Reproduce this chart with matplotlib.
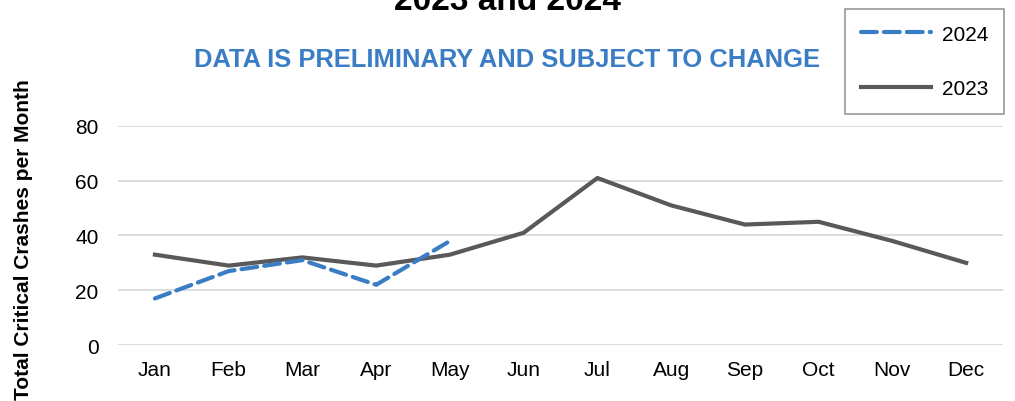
import matplotlib.pyplot as plt

plt.rcParams['font.family'] = ['Liberation Sans', 'DejaVu Sans']

# данные по месяцам
months = ['Jan', 'Feb', 'Mar', 'Apr', 'May', 'Jun', 'Jul', 'Aug', 'Sep', 'Oct', 'Nov', 'Dec']
crashes_2023 = [33, 29, 32, 29, 33, 41, 61, 51, 44, 45, 38, 30]
crashes_2024 = [17, 27, 31, 22, 38]

fig = plt.figure(figsize=(10.15, 4.02), dpi=100)
ax = fig.add_axes([0.1163, 0.1393, 0.8719, 0.5448])

x = list(range(len(months)))
l24, = ax.plot(x[:len(crashes_2024)], crashes_2024, color='#3A7DC4', lw=3, ls=(0, (3.8, 1.7)),
               dash_capstyle='round', label='2024', zorder=3)
l23, = ax.plot(x, crashes_2023, color='#595959', lw=3, label='2023', zorder=2)

ax.set_xlim(-0.5, 11.5)
ax.set_ylim(0, 80)
ax.set_yticks([0, 20, 40, 60, 80])
ax.set_xticks(x)
ax.set_xticklabels(months)
ax.tick_params(length=0, labelsize=15, colors='#000000')
ax.tick_params(axis='x', pad=11)
ax.tick_params(axis='y', pad=14)
ax.grid(axis='y', color='#D9D9D9', lw=1.3)
ax.set_axisbelow(True)
for s in ax.spines.values():
    s.set_visible(False)

# заголовок (верх обрезан)
fig.text(0.5, 1 - 10 / 402, 'Total Critical Crashes by Month\n2023 and 2024', ha='center', va='baseline',
         fontsize=24, fontweight='bold', linespacing=1.15)
fig.text(0.5, 0.851, 'DATA IS PRELIMINARY AND SUBJECT TO CHANGE', ha='center', va='center',
         fontsize=18.4, fontweight='bold', color='#3A7DC4')
fig.text(0.0236, 0.403, 'Total Critical Crashes per Month', rotation=90, ha='center', va='center',
         fontsize=15, fontweight='bold')

leg = fig.legend(handles=[l24, l23], loc='upper left', bbox_to_anchor=(845 / 1015, 1 - 10 / 402),
                 frameon=True, fancybox=False, fontsize=15, handlelength=3.4,
                 labelspacing=1.7, borderpad=0.75, handletextpad=0.5, borderaxespad=0)
leg.get_frame().set_edgecolor('#7F7F7F')
leg.get_frame().set_linewidth(1.2)

fig.savefig('out.png', dpi=100)
